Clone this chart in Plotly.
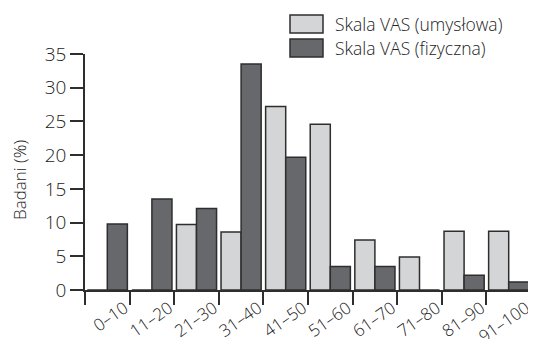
import plotly.graph_objects as go

categories = ["0–10", "11–20", "21–30", "31–40", "41–50", "51–60", "61–70", "71–80", "81–90", "91–100"]
umyslowa = [0, 0, 9.7, 8.6, 27.2, 24.6, 7.4, 4.9, 8.7, 8.7]
fizyczna = [9.8, 13.5, 12.1, 33.5, 19.7, 3.5, 3.5, 0, 2.2, 1.2]
y_ticks = [0, 5, 10, 15, 20, 25, 30, 35]
series_names = ["Skala VAS (umysłowa)", "Skala VAS (fizyczna)"]
series_colors = ["#d4d5d7", "#67686c"]

FONT = "Open Sans"
TXT = "#222222"
LINE = "#2e2e2e"

x_pos = list(range(len(categories)))

fig = go.Figure()
for name, vals, col in zip(series_names, [umyslowa, fizyczna], series_colors):
    fig.add_trace(go.Bar(
        x=x_pos, y=vals, name=name, showlegend=False,
        marker=dict(color=col, line=dict(color=LINE, width=1.5)),
    ))

tickvals = [-0.5] + [i + 0.5 for i in x_pos]
ticktext = [""] + categories

OFF = 8  # page body margin
W, H = 536 - OFF, 339 - OFF
L, R, T = 85 - OFF, 1, 54 - OFF
B = H - (290 - OFF)
pw = W - L - R
ph = H - T - B

def px_x(px):
    return (px - OFF - L) / pw

def px_y(py):
    return (H - B - (py - OFF)) / ph

fig.update_layout(
    width=W, height=H,
    margin=dict(l=L, r=R, t=T, b=B, autoexpand=False),
    plot_bgcolor="white", paper_bgcolor="white",
    barmode="group", bargap=0.1, bargroupgap=0.0,
    font=dict(family=FONT, color=TXT, size=17, weight=300),
    xaxis=dict(
        range=[-0.5, -0.5 + pw / 44.6], tickmode="array", tickvals=tickvals, ticktext=ticktext,
        tickangle=-35, ticks="outside", ticklen=13, tickwidth=1.5, tickcolor=LINE,
        showline=True, linecolor=LINE, linewidth=1.5, showgrid=False, zeroline=False,
        tickfont=dict(family=FONT, size=17, color=TXT, weight=300), automargin=False,
        ticklabelstandoff=-13, ticklabelshift=-5, ticklabeloverflow="allow",
    ),
    yaxis=dict(
        range=[0, 35], tickmode="array", tickvals=y_ticks,
        ticks="outside", ticklen=13, tickwidth=1.5, tickcolor=LINE,
        showline=True, linecolor=LINE, linewidth=1.5, showgrid=False, zeroline=False,
        tickfont=dict(family=FONT, size=19, color=TXT, weight=300), automargin=False,
    ),
)

fig.add_annotation(
    text="Badani (%)", xref="paper", yref="paper", x=px_x(19), y=px_y(180),
    textangle=-90, showarrow=False, font=dict(family=FONT, size=17, color=TXT, weight=300),
    xanchor="center", yanchor="middle",
)

legend_rows = [(15, 33), (39, 57)]
for (y0, y1), name, col in zip(legend_rows, series_names, series_colors):
    fig.add_shape(
        type="rect", xref="paper", yref="paper",
        x0=px_x(290), x1=px_x(323), y0=px_y(y1), y1=px_y(y0),
        fillcolor=col, line=dict(color=LINE, width=1.5),
    )
    fig.add_annotation(
        text=name, xref="paper", yref="paper", x=px_x(333), y=px_y((y0 + y1) / 2),
        xanchor="left", yanchor="middle", showarrow=False,
        font=dict(family=FONT, size=17.5, color=TXT, weight=300),
    )

fig.write_html("out.html")
